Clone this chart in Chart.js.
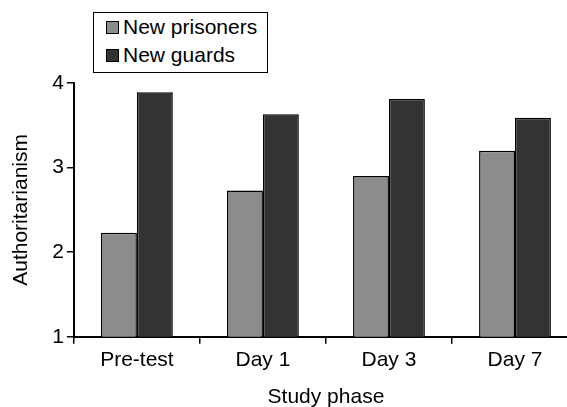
<!DOCTYPE html>
<html>
<head>
    <title>Authoritarianism by study phase</title>
    <script src="https://cdn.jsdelivr.net/npm/chart.js"></script>
    <style>
        html, body { margin: 0; padding: 0; background: #fff; overflow: hidden; }
        #wrap { position: relative; width: 580px; height: 408px; }
        #legend {
            position: absolute; left: 93px; top: 12px; width: 173px; height: 58px;
            border: 1.5px solid #000; background: #fff;
            font-family: "Liberation Sans", Arial, sans-serif; font-size: 21px; color: #000;
            padding-top: 1px; box-sizing: content-box;
        }
        #legend div { height: 28px; line-height: 26px; white-space: nowrap; }
        #legend span.box {
            display: inline-block; width: 11px; height: 11px; border: 1.5px solid #000;
            margin: 0 4px 0 12px; vertical-align: 0px;
        }
    </style>
</head>
<body>
<div id="wrap">
    <canvas id="chart"></canvas>
    <div id="legend"></div>
</div>
<script>
    // data
    const phases = ["Pre-test", "Day 1", "Day 3", "Day 7"];
    const seriesNames = ["New prisoners", "New guards"];
    const prisoners = [2.23, 2.73, 2.90, 3.20];
    const guards = [3.89, 3.63, 3.81, 3.59];
    const yTicks = [1, 2, 3, 4];
    const barColors = ["#8c8c8c", "#333333"];

    const font = "'Liberation Sans', Arial, sans-serif";

    const datasets = [prisoners, guards].map((vals, i) => ({
        label: seriesNames[i],
        data: vals,
        backgroundColor: barColors[i],
        borderColor: "#000",
        borderWidth: 1.5,
        categoryPercentage: 0.57,
        barPercentage: 1.0
    }));

    // html legend, built from the datasets
    const legend = document.getElementById("legend");
    datasets.forEach(ds => {
        legend.innerHTML += `<div><span class="box" style="background:${ds.backgroundColor}"></span>${ds.label}</div>`;
    });

    new Chart(document.getElementById("chart").getContext("2d"), {
        type: "bar",
        data: { labels: phases, datasets: datasets },
        options: {
            responsive: true,
            maintainAspectRatio: false,
            animation: false,
            layout: { padding: { top: 83, left: 9, right: 2, bottom: 0 } },
            plugins: { legend: { display: false }, tooltip: { enabled: false } },
            scales: {
                x: {
                    offset: true,
                    grid: { display: true, offset: true, drawOnChartArea: false, color: "#000", tickLength: 7, lineWidth: 1.5 },
                    border: { display: true, color: "#000", width: 2 },
                    ticks: { color: "#000", font: { family: font, size: 21 }, padding: 4 },
                    title: { display: true, text: "Study phase", color: "#000", font: { family: font, size: 21, lineHeight: 1 }, padding: { top: 10, bottom: 0 } }
                },
                y: {
                    min: 1,
                    max: 4,
                    afterBuildTicks: axis => { axis.ticks = yTicks.map(v => ({ value: v })); },
                    grid: { display: true, drawOnChartArea: false, color: "#000", tickLength: 7, lineWidth: 1.5 },
                    border: { display: true, color: "#000", width: 2 },
                    ticks: { color: "#000", font: { family: font, size: 21 }, padding: 3 },
                    title: { display: true, text: "Authoritarianism", color: "#000", font: { family: font, size: 21 }, padding: { top: 0, bottom: 15 } }
                }
            }
        }
    });
</script>
</body>
</html>
